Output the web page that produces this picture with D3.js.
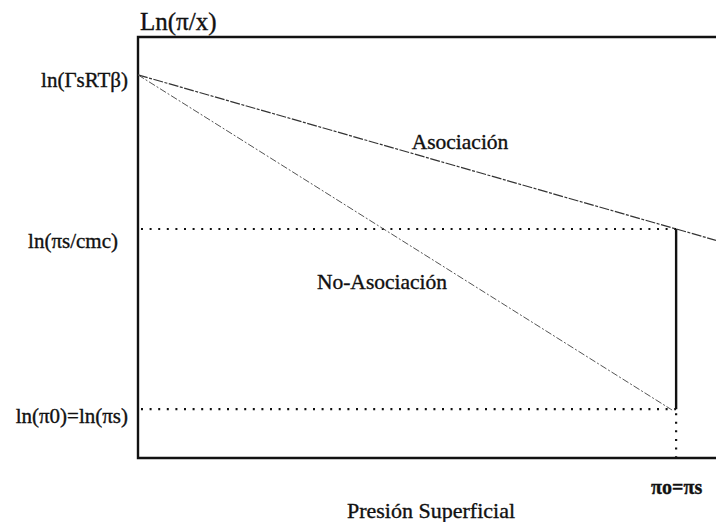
<!DOCTYPE html>
<html><head><meta charset="utf-8">
<script src="https://cdn.jsdelivr.net/npm/d3@7"></script>
<style>
html,body{margin:0;padding:0;background:#fff;}
text{font-family:"Liberation Serif","Times New Roman",Times,serif;fill:#111;stroke:#111;stroke-width:0.35px;}
</style></head>
<body><svg id="c" width="716" height="522"></svg>
<script>
// ---- data ----
const xDomain = [0, 100];
const yDomain = [0, 100];
const piS = 93.1;                       // surface pressure πo = πs
const yLabels = ["ln(ΓsRTβ)", "ln(πs/cmc)", "ln(π0)=ln(πs)"];
const yValues = [91.0, 54.4, 11.6];
const xLabels = ["πo=πs"];
const xValues = [piS];
const asocX = [0, 93.1, 100];
const asocY = [91.0, 54.4, 51.7];
const noAsocX = [0, 92.4];
const noAsocY = [91.0, 11.4];
const seriesNames = ["Asociación", "No-Asociación"];

// ---- drawing ----
const svg = d3.select("#c");
const x = d3.scaleLinear().domain(xDomain).range([138, 716]);
const y = d3.scaleLinear().domain(yDomain).range([458, 37]);

// frame
const frame = svg.append("g").attr("stroke", "#111").attr("stroke-width", 2.4).attr("fill", "none");
frame.append("path").attr("d", `M${x(100)},${y(100)}H${x(0)}V${y(0)}H${x(100)}`);

// y axis labels
const yAxis = d3.axisLeft(y).tickValues(yValues).tickSize(0).tickPadding(10)
  .tickFormat((d, i) => yLabels[i]);
const ga = svg.append("g").attr("transform", `translate(${x(0)},0)`).call(yAxis);
ga.select(".domain").remove();
const dyAdj = [4, 11, 6];
const dxAdj = [0, -10, 0];
ga.selectAll(".tick text").attr("font-size", 21).attr("fill", "#111")
  .attr("dx", (d, i) => dxAdj[i] + "px")
  .attr("dy", (d, i) => (0.34 * 21 + dyAdj[i]) + "px");

// x axis label
const xAxis = d3.axisBottom(x).tickValues(xValues).tickSize(0).tickPadding(22)
  .tickFormat((d, i) => xLabels[i]);
const gx = svg.append("g").attr("transform", `translate(0,${y(0)})`).call(xAxis);
gx.select(".domain").remove();
gx.selectAll(".tick text").attr("font-size", 20).attr("font-weight", "bold").attr("fill", "#111");

// dotted guides
const dots = svg.append("g").attr("stroke", "#111").attr("stroke-width", 2.2)
  .attr("stroke-dasharray", "2,6.6").attr("fill", "none");
dots.append("line").attr("x1", x(0) + 3).attr("x2", x(piS)).attr("y1", y(yValues[1])).attr("y2", y(yValues[1]));
dots.append("line").attr("x1", x(0) + 3).attr("x2", x(piS)).attr("y1", y(yValues[2])).attr("y2", y(yValues[2]));
dots.append("line").attr("x1", x(piS)).attr("x2", x(piS)).attr("y1", y(yValues[2]) + 4).attr("y2", y(0));

// solid vertical
svg.append("line").attr("x1", x(piS)).attr("x2", x(piS)).attr("y1", y(yValues[1]))
  .attr("y2", y(yValues[2])).attr("stroke", "#111").attr("stroke-width", 2.4);

// series lines
const line = d3.line().x(d => x(d[0])).y(d => y(d[1]));
svg.append("path").datum(d3.zip(asocX, asocY)).attr("d", line)
  .attr("fill", "none").attr("stroke", "#333").attr("stroke-width", 1.2).attr("stroke-dasharray", "10,1.5,3,1.5");
svg.append("path").datum(d3.zip(noAsocX, noAsocY)).attr("d", line)
  .attr("fill", "none").attr("stroke", "#555").attr("stroke-width", 1).attr("stroke-dasharray", "7,2,2,2");

// series labels
svg.append("text").attr("x", 460).attr("y", 149).attr("text-anchor", "middle")
  .attr("font-size", 21.5).text(seriesNames[0]);
svg.append("text").attr("x", 382).attr("y", 289).attr("text-anchor", "middle")
  .attr("font-size", 21.5).text(seriesNames[1]);

// titles
svg.append("text").attr("x", 140).attr("y", 30).attr("font-size", 25).text("Ln(π/x)");
svg.append("text").attr("x", 431).attr("y", 518).attr("text-anchor", "middle")
  .attr("font-size", 22).text("Presión Superficial");
</script></body></html>
